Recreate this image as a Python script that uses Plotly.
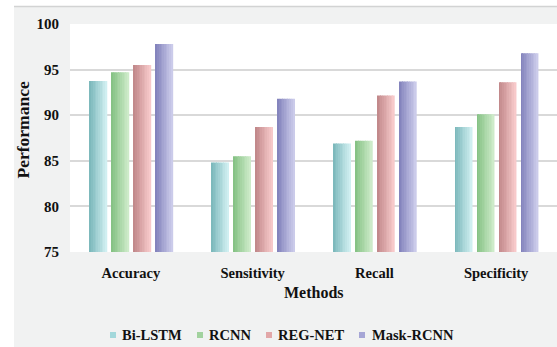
import plotly.graph_objects as go

# Evaluation metrics per model
categories = ["Accuracy", "Sensitivity", "Recall", "Specificity"]
models = ["Bi-LSTM", "RCNN", "REG-NET", "Mask-RCNN"]
bi_lstm = [93.75, 84.8, 86.9, 88.7]
rcnn = [94.7, 85.5, 87.2, 90.1]
reg_net = [95.5, 88.7, 92.15, 93.6]
mask_rcnn = [97.8, 91.8, 93.7, 96.8]
series = [bi_lstm, rcnn, reg_net, mask_rcnn]
y_ticks = [75, 80, 85, 90, 95, 100]

# dark (left edge) -> light (right edge) shades for the shaded bars
shades = [
    ("#7db9bc", "#d0eff1"),
    ("#86c285", "#cdebc9"),
    ("#c2898b", "#f7c9ca"),
    ("#8484bd", "#cbcbea"),
]
swatch = ["#a3d8db", "#a2d29e", "#e2a7a8", "#a6a6d6"]

FONT = "Times New Roman, Liberation Serif, serif"
W, H = 557, 347
ML, MT, MB = 70, 24, 95
PW, PH = W - ML, H - MT - MB


def px_x(px):
    return (px - ML) / PW


def px_y(py):
    return (MT + PH - py) / PH


def lerp(c1, c2, t):
    a = [int(c1[i:i + 2], 16) for i in (1, 3, 5)]
    b = [int(c2[i:i + 2], 16) for i in (1, 3, 5)]
    return "#" + "".join(f"{round(a[k] + (b[k] - a[k]) * t):02x}" for k in range(3))


fig = go.Figure()

bar_w = 0.143
step = 0.1805
start = -0.337
n_slices = 10
for i, (name, vals) in enumerate(zip(models, series)):
    dark, light = shades[i]
    sw = bar_w / n_slices
    for k in range(n_slices):
        fig.add_trace(go.Bar(
            x=categories, y=vals, name=name,
            width=[sw] * len(categories),
            offset=[start + i * step + k * sw] * len(categories),
            marker=dict(color=lerp(dark, light, k / (n_slices - 1)), line=dict(width=0)),
            showlegend=False, hovertemplate=name + ": %{y}<extra></extra>",
        ))

shapes = [
    # chart background panel
    dict(type="rect", xref="paper", yref="paper", x0=px_x(14), x1=1.0,
         y0=px_y(H), y1=px_y(7), fillcolor="#f1f2f2", line_width=0, layer="below"),
    # plot area
    dict(type="rect", xref="x domain", yref="y domain", x0=0, x1=1, y0=0, y1=1,
         fillcolor="white", line_width=0, layer="below"),
    # top border of the panel
    dict(type="line", xref="paper", yref="paper", x0=px_x(14), x1=1.0,
         y0=px_y(6.5), y1=px_y(6.5), line=dict(color="#d2d3d3", width=1.5)),
]

annotations = [
    dict(text="<b>Performance</b>", xref="paper", yref="paper", x=px_x(22), y=px_y(130.5),
         textangle=-90, showarrow=False, xanchor="center", yanchor="middle",
         font=dict(family=FONT, size=17.5, color="#111111")),
    dict(text="<b>Methods</b>", xref="paper", yref="paper", x=px_x(314), y=px_y(292),
         showarrow=False, xanchor="center", yanchor="middle",
         font=dict(family=FONT, size=16, color="#111111")),
]

# legend row
sq_x = [113, 200, 269, 362]
txt_x = [120, 207, 276, 370]
leg_y = 335
for i, name in enumerate(models):
    shapes.append(dict(type="rect", xref="paper", yref="paper",
                       xsizemode="pixel", ysizemode="pixel",
                       xanchor=px_x(sq_x[i]), yanchor=px_y(leg_y),
                       x0=-3, x1=3, y0=-3, y1=3,
                       fillcolor=swatch[i], line_width=0))
    annotations.append(dict(text="<b>" + name + "</b>", xref="paper", yref="paper",
                            x=px_x(txt_x[i]), y=px_y(leg_y), showarrow=False,
                            xanchor="left", yanchor="middle",
                            font=dict(family=FONT, size=14.5, color="#111111")))

fig.update_layout(
    width=W, height=H,
    margin=dict(l=ML, r=0, t=MT, b=MB, pad=0),
    paper_bgcolor="white", plot_bgcolor="white",
    barmode="overlay", showlegend=False,
    shapes=shapes, annotations=annotations,
    font=dict(family=FONT, color="#111111"),
)
fig.update_xaxes(
    type="category", showgrid=False, showline=False, zeroline=False,
    ticks="", ticklabelstandoff=10,
    tickvals=categories, ticktext=["<b>" + c + "</b>" for c in categories],
    tickfont=dict(family=FONT, size=14.5, color="#111111"),
)
fig.update_yaxes(
    range=[75, 100], tickvals=y_ticks, ticktext=["<b>%d</b>" % v for v in y_ticks],
    showgrid=True, gridcolor="#d9d9d9", gridwidth=1.5, showline=False, zeroline=False,
    ticks="", ticklabelstandoff=10,
    tickfont=dict(family=FONT, size=15, color="#111111"),
)

fig.write_html("out.html")
